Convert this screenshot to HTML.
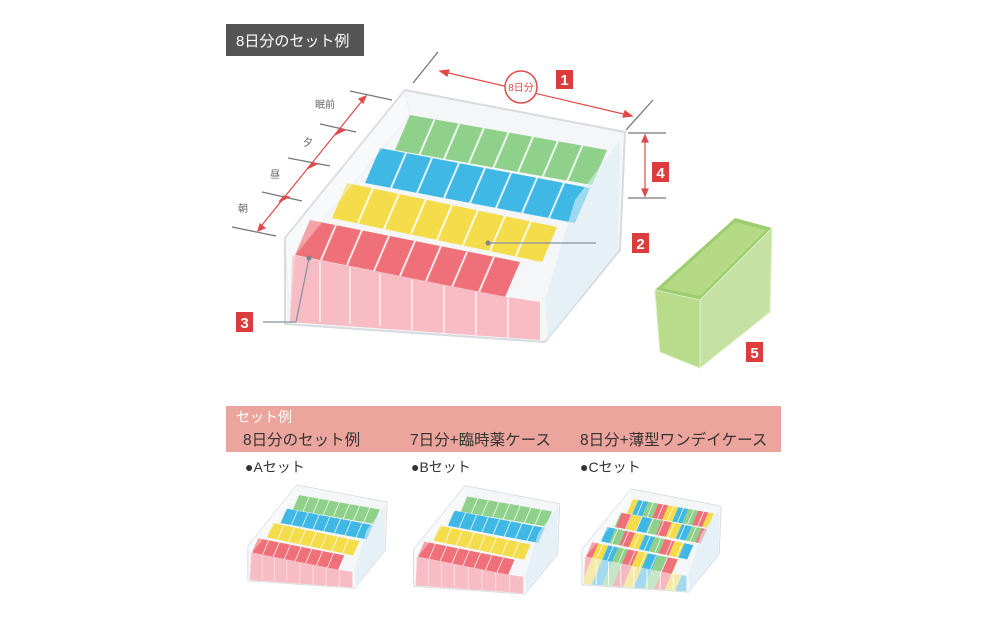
<!DOCTYPE html>
<html><head><meta charset="utf-8"><style>
html,body{margin:0;padding:0;background:#fff}
body{width:1000px;height:625px;overflow:hidden;position:relative;font-family:"Liberation Sans","Noto Sans CJK JP",sans-serif}
</style></head><body>
<svg width="1000" height="625" viewBox="0 0 1000 625" xmlns="http://www.w3.org/2000/svg" style="position:absolute;left:0;top:0;font-family:'Liberation Sans','Noto Sans CJK JP',sans-serif">
<defs>
<pattern id="p0" patternUnits="userSpaceOnUse" width="105" height="200" patternTransform="skewX(-23)">
<rect x="0" y="0" width="26.25" height="200" fill="#f0707a"/><rect x="26.25" y="0" width="26.25" height="200" fill="#f5dc4a"/><rect x="52.5" y="0" width="26.25" height="200" fill="#3fb8e6"/><rect x="78.75" y="0" width="26.25" height="200" fill="#8fd18a"/></pattern>
<pattern id="p1" href="#p0" x="26.25"/>
<pattern id="p2" href="#p0" x="52.5"/>
<pattern id="p3" href="#p0" x="78.75"/>
<g id="frame">
  <polygon points="405,90 625,132 620,250 545,342 285,324 285,238" fill="#f4f6f8" stroke="#d6dbe0" stroke-width="2"/>
</g>
<g id="divs">
  <g stroke="#ffffff" stroke-width="2" fill="none" opacity="0.85">
    <path d="M434.6,119.4l-15,35M459.2,123.8l-15,35M483.9,128.1l-15,35M508.5,132.5l-15,35M533.1,136.9l-15,35M557.8,141.3l-15,35M582.4,145.6l-15,35"/>
    <path d="M406,153l-15,35M432,158l-15,35M459,163l-15,35M485,168l-15,35M511,173l-15,35M537,178l-15,35M564,183l-15,35"/>
    <path d="M373,188l-15,35M399,194l-15,35M426,199l-15,35M452,205l-15,35M478,210l-15,35M505,216l-15,35M531,221l-15,35"/>
    <path d="M336,225l-15,35M362,230l-15,35M389,236l-15,35M415,241l-15,35M441,246l-15,35M467,252l-15,35M494,257l-15,35"/>
  </g>
</g>
<g id="front">
  <polygon points="575,200 620,140 618,250 548,340 545,300" fill="#dbeef7" opacity="0.6"/>
  <polygon points="285,238 405,90 410,115 295,255 290,322" fill="#ffffff" opacity="0.35" stroke="#dfe3e7"/>
</g>
<g id="tray">
  <use href="#frame"/>
  <polygon points="410,115 607,150 592,185 395,150" fill="#8fd18a"/>
  <polygon points="380,148 590,188 575,223 365,183" fill="#3fb8e6"/>
  <polygon points="347,183 557,227 542,262 332,218" fill="#f5dc4a"/>
  <polygon points="310,220 520,262 505,297 295,255" fill="#f0707a"/>
  <use href="#divs"/>
  <polygon points="292,255 507,297 540,302 540,340 290,322" fill="#f7bcc4"/>
  <g stroke="#fde2e6" stroke-width="2"><path d="M320,262v60M350,268v56M380,274v52M412,280v50M444,286v48M476,291v46M508,297v42"/></g>
  <use href="#front"/>
</g>
<g id="trayC">
  <use href="#frame"/>
  <polygon points="410,115 607,150 592,185 395,150" fill="url(#p0)"/>
  <polygon points="380,148 590,188 575,223 365,183" fill="url(#p1)"/>
  <polygon points="347,183 557,227 542,262 332,218" fill="url(#p2)"/>
  <polygon points="310,220 520,262 505,297 295,255" fill="url(#p3)"/>
  <use href="#divs"/>
  <polygon points="292,255 507,297 540,302 540,340 290,322" fill="url(#p3)" opacity="0.45"/>
  <g stroke="#ffffff" stroke-width="2"><path d="M320,262v60M350,268v56M380,274v52M412,280v50M444,286v48M476,291v46M508,297v42"/></g>
  <use href="#front"/>
</g>
</defs>

<rect x="226" y="24" width="138" height="32" fill="#555"/>
<text x="236" y="46" font-size="15" fill="#fff">8日分のセット例</text>

<use href="#tray"/>

<g stroke="#777" stroke-width="1.3"><line x1="413" y1="83" x2="438" y2="52"/><line x1="626" y1="130" x2="653" y2="100"/>
<line x1="628" y1="133" x2="666" y2="133"/><line x1="628" y1="198" x2="666" y2="198"/>
<line x1="350" y1="91" x2="392" y2="100"/><line x1="320" y1="124" x2="356" y2="132"/><line x1="288" y1="158" x2="330" y2="166"/><line x1="262" y1="192" x2="302" y2="201"/><line x1="232" y1="227" x2="276" y2="236"/></g>
<g stroke="#e04a4a" stroke-width="1.2" fill="#e04a4a">
<line x1="440" y1="71" x2="632" y2="116"/>
<polygon points="440,71 449,70 447,76"/><polygon points="632,116 623,117 625,111"/>
<line x1="645" y1="136" x2="645" y2="195"/>
<polygon points="645,135 642,142 648,142"/><polygon points="645,196 642,189 648,189"/>
<line x1="366" y1="96" x2="258" y2="230"/>
<polygon points="366,96 363,103 359,99"/><polygon points="258,231 260,224 265,228"/>
<polygon points="340,129 335,135 345,130"/><polygon points="312,163 307,169 317,164"/><polygon points="284,196 279,202 289,197"/>
</g>
<circle cx="521" cy="87" r="16" fill="#fff" stroke="#e04a4a" stroke-width="1.5"/>
<text x="521" y="91" font-size="10" fill="#e04a4a" text-anchor="middle">8日分</text>
<g font-size="10" fill="#666"><text x="315" y="108">眠前</text><text x="303" y="146">夕</text><text x="270" y="178">昼</text><text x="238" y="212">朝</text></g>

<g font-size="15" font-weight="bold" fill="#fff">
<rect x="556" y="70" width="17" height="19" fill="#dd3c3c"/><text x="564.5" y="85" text-anchor="middle">1</text>
<rect x="652" y="162" width="17" height="20" fill="#dd3c3c"/><text x="660.5" y="178" text-anchor="middle">4</text>
<rect x="632" y="233" width="17" height="20" fill="#dd3c3c"/><text x="640.5" y="249" text-anchor="middle">2</text>
<rect x="236" y="312" width="17" height="20" fill="#dd3c3c"/><text x="244.5" y="328" text-anchor="middle">3</text>
<rect x="746" y="342" width="17" height="20" fill="#dd3c3c"/><text x="754.5" y="358" text-anchor="middle">5</text>
</g>
<g stroke="#8890a0" stroke-width="1.2" fill="none"><line x1="488" y1="243" x2="596" y2="243"/><polyline points="263,322 296,322 309,258"/></g>
<circle cx="488" cy="243" r="2.5" fill="#7d8597"/><circle cx="309" cy="258" r="2.5" fill="#7d8597"/>

<!-- green piece -->
<polygon points="655,290 735,218 772,228 700,300" fill="#9ccd6e"/>
<polygon points="662,288 735,222 766,230 700,296" fill="#b4da86"/>
<polygon points="655,290 700,300 700,368 660,352" fill="#b8dc8c" stroke="#d8ecc0"/>
<polygon points="700,300 772,228 770,312 700,368" fill="#c6e2a2" stroke="#e0f0cc"/>

<rect x="226" y="406" width="555" height="46" fill="#eba59c"/>
<text x="236" y="422" font-size="14" fill="#fff">セット例</text>
<g font-size="15.5" fill="#333"><text x="243" y="445">8日分のセット例</text><text x="410" y="445">7日分+臨時薬ケース</text><text x="580" y="445">8日分+薄型ワンデイケース</text></g>
<g font-size="14" fill="#333"><text x="245" y="472">●Aセット</text><text x="411" y="472">●Bセット</text><text x="580" y="472">●Cセット</text></g>

<use href="#tray" transform="translate(131,448) scale(0.41)"/>
<use href="#tray" transform="translate(291,447) scale(0.43)"/>
<use href="#trayC" transform="translate(465,452) scale(0.41)"/>
</svg>
</body></html>
